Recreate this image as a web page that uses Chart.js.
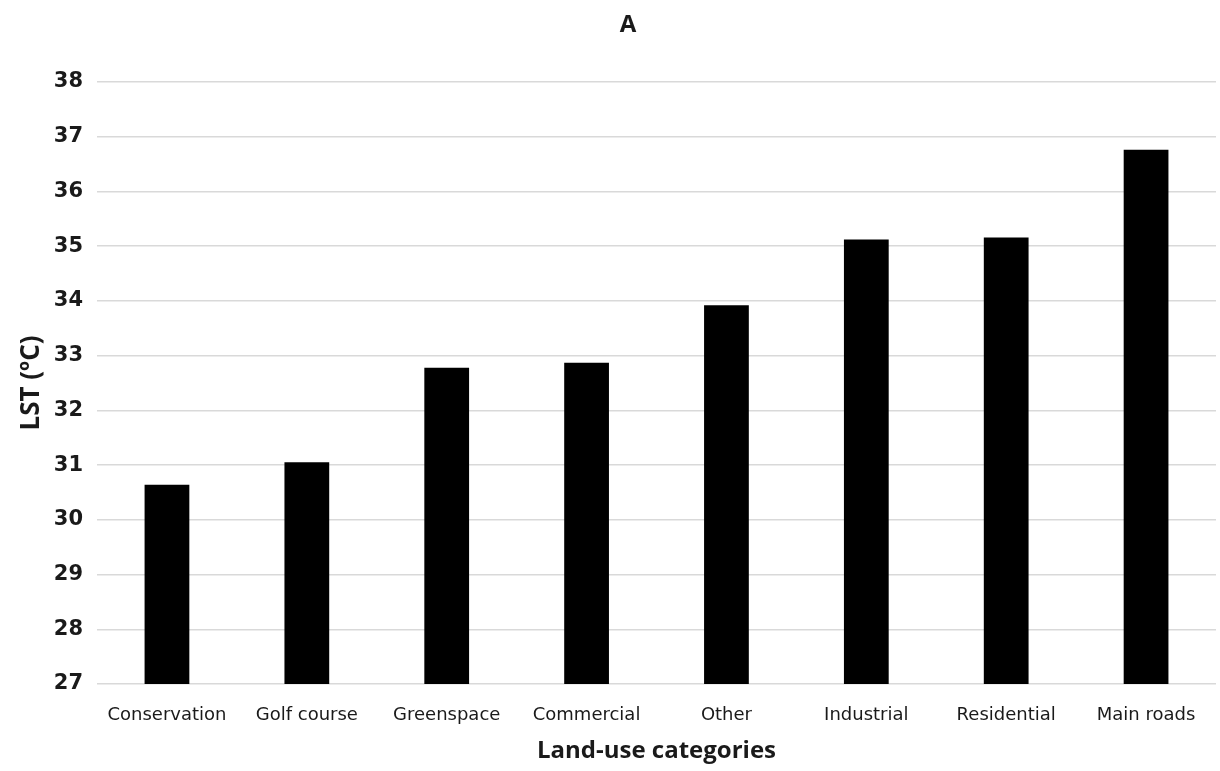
<!DOCTYPE html>
<html>
<head>
<meta charset="utf-8">
<script src="https://cdn.jsdelivr.net/npm/chart.js@4/dist/chart.umd.min.js"></script>
<style>
  html, body { margin: 0; padding: 0; background: #ffffff; }
  #wrap { width: 1220px; height: 771px; }
</style>
</head>
<body>
<div id="wrap"><canvas id="c" width="1220" height="771"></canvas></div>
<script>
const categories = ["Conservation", "Golf course", "Greenspace", "Commercial", "Other", "Industrial", "Residential", "Main roads"];
const lstValues = [30.64, 31.05, 32.78, 32.87, 33.92, 35.12, 35.16, 36.76];
const yMin = 27;
const yMax = 38;
const yStep = 1;
const chartTitle = "A";
const xTitle = "Land-use categories";
const yTitle = "LST (\u00BAC)";

new Chart(document.getElementById("c"), {
  type: "bar",
  data: {
    labels: categories,
    datasets: [{
      label: "LST",
      data: lstValues,
      backgroundColor: "#000000",
      borderWidth: 0,
      categoryPercentage: 1.0,
      barPercentage: 0.32
    }]
  },
  options: {
    responsive: false,
    animation: false,
    layout: { padding: { left: 40, right: 4, top: 0, bottom: 0 } },
    plugins: {
      legend: { display: false },
      tooltip: { enabled: false },
      title: {
        display: true,
        text: chartTitle,
        color: "#1a1a1a",
        font: { family: "'Open Sans'", size: 24, weight: "bold" },
        padding: { top: 11, bottom: 42.2 }
      }
    },
    scales: {
      x: {
        grid: { display: false, drawTicks: false },
        border: { display: false },
        ticks: {
          color: "#1a1a1a",
          font: { family: "'DejaVu Sans'", size: 18 },
          padding: 20.2,
          maxRotation: 0,
          autoSkip: false
        },
        title: {
          display: true,
          text: xTitle,
          color: "#1a1a1a",
          font: { family: "'Open Sans'", size: 24, weight: "bold" },
          padding: { top: -9.4, bottom: 5.6 }
        }
      },
      y: {
        min: yMin,
        max: yMax,
        grid: { color: "#d9d9d9", lineWidth: 1.5, drawTicks: false },
        border: { display: false },
        ticks: {
          stepSize: yStep,
          color: "#1a1a1a",
          font: { family: "'DejaVu Sans'", size: 21, weight: "bold" },
          padding: 14
        },
        title: {
          display: true,
          text: yTitle,
          color: "#1a1a1a",
          font: { family: "'Open Sans'", size: 26, weight: "bold" },
          padding: { top: -23.6, bottom: -7.8 }
        }
      }
    }
  }
});
</script>
</body>
</html>
